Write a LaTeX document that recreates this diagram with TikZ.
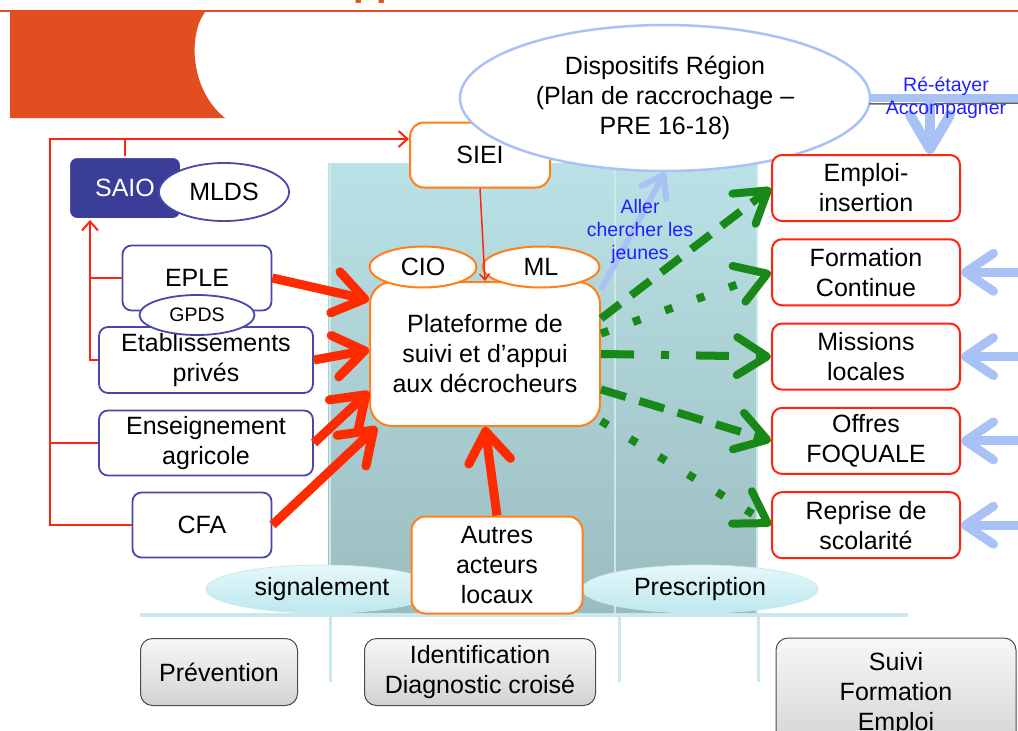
\documentclass[tikz,border=0pt]{standalone}
\usepackage{fontspec}
\setmainfont{Liberation Sans}
\usetikzlibrary{shapes.geometric, arrows.meta, positioning, calc}

\definecolor{titleorange}{RGB}{226,78,31}
\definecolor{saioblue}{RGB}{59,62,152}
\definecolor{schoolblue}{RGB}{72,72,168}
\definecolor{platorange}{RGB}{255,128,24}
\definecolor{outred}{RGB}{255,36,16}
\definecolor{arrowred}{RGB}{255,42,0}
\definecolor{arrowgreen}{RGB}{24,136,24}
\definecolor{paleblue}{RGB}{168,194,246}
\definecolor{linkblue}{RGB}{32,32,255}
\definecolor{panelTop}{RGB}{186,226,230}
\definecolor{panelBot}{RGB}{154,188,191}
\definecolor{paneledge}{RGB}{204,232,234}
\definecolor{ovalTop}{RGB}{230,248,250}
\definecolor{ovalBot}{RGB}{188,232,238}
\definecolor{tealedge}{RGB}{200,232,236}

\newcommand{\diagfont}{\fontsize{25}{30}\selectfont}
\newcommand{\labelfont}{\fontsize{19.5}{23}\selectfont}
\newcommand{\gpdsfont}{\fontsize{19.5}{22}\selectfont}

\begin{document}
\begin{tikzpicture}[x=1pt, y=-1pt,
    % Node styles
    schoolbox/.style={
        rectangle,
        rounded corners=9pt,
        draw=schoolblue,
        line width=1.8pt,
        fill=white,
        font=\diagfont,
        align=center,
        inner sep=0pt
    },
    schooloval/.style={
        ellipse,
        draw=schoolblue,
        line width=1.8pt,
        fill=white,
        inner sep=0pt
    },
    platbox/.style={
        rectangle,
        rounded corners=14pt,
        draw=platorange,
        line width=2pt,
        fill=white,
        font=\diagfont,
        align=center,
        inner sep=0pt
    },
    platoval/.style={
        ellipse,
        draw=platorange,
        line width=2pt,
        fill=white,
        font=\diagfont,
        inner sep=0pt
    },
    outbox/.style={
        rectangle,
        rounded corners=10pt,
        draw=outred,
        line width=2pt,
        fill=white,
        minimum width=188pt,
        minimum height=66pt,
        font=\diagfont,
        align=center,
        inner sep=0pt
    },
    phasebox/.style={
        rectangle,
        rounded corners=12pt,
        draw=black!70,
        line width=1pt,
        top color=gray!6,
        bottom color=gray!35,
        font=\diagfont,
        align=center,
        inner sep=0pt
    },
    stepoval/.style={
        ellipse,
        draw=tealedge,
        line width=0.8pt,
        top color=ovalTop,
        bottom color=ovalBot,
        font=\diagfont,
        inner sep=0pt
    },
    link/.style={
        draw=outred,
        line width=2pt
    },
    redarrow/.style={
        -{Straight Barb[length=30pt, width=42pt, round]},
        line width=9pt,
        arrowred
    },
    greenarrow/.style={
        -{Straight Barb[length=30pt, width=38pt, round]},
        line width=8pt,
        arrowgreen
    },
    bluearrow/.style={
        -{Straight Barb[length=28pt, width=38pt, round]},
        line width=9pt,
        paleblue
    }
]
\useasboundingbox (0,0) rectangle (1018,731);

% === Title strip ===
\node[anchor=base west, inner sep=0pt, text=titleorange,
      font=\fontsize{38}{40}\selectfont\bfseries] (title) at (353,-5) {pp};
\draw[titleorange, line width=1.2pt] (0,11) -- (1018,11);
\fill[titleorange] (10,12) -- (205,12) .. controls (188,35) and (190,90) .. (225,118) -- (10,118) -- cycle;

% === Phase columns (background) ===
\shade[top color=panelTop, bottom color=panelBot] (328,163) rectangle (615,615);
\shade[top color=panelTop, bottom color=panelBot] (615,163) rectangle (757,615);
\draw[paneledge, line width=1.5pt] (330,163) -- (330,615);
\draw[paneledge, line width=1.5pt] (615,163) -- (615,615);
\draw[paneledge, line width=1.5pt] (757,163) -- (757,615);
\draw[tealedge, line width=4pt] (140,615) -- (908,615);
\draw[tealedge, line width=3pt] (330,615) -- (330,682);
\draw[tealedge, line width=3pt] (619,615) -- (619,682);
\draw[tealedge, line width=3pt] (758,615) -- (758,682);

\node[stepoval, minimum width=232pt, minimum height=48pt] (signal) at (322,589) {signalement};
\node[stepoval, minimum width=236pt, minimum height=48pt] (prescr) at (700,589) {Prescription};

% === Left side: schools ===
\node[rectangle, rounded corners=8pt, fill=saioblue, draw=white, line width=2pt,
      minimum width=112pt, minimum height=62pt, font=\diagfont, text=white,
      inner sep=0pt] (saio) at (125,188) {SAIO};
\node[schooloval, minimum width=130pt, minimum height=58pt, font=\diagfont] (mlds) at (224,192) {MLDS};
\node[schoolbox, minimum width=149pt, minimum height=65pt] (eple) at (197,278) {EPLE};
\node[schoolbox, minimum width=214pt, minimum height=66pt] (etab) at (206,360) {Etablissements\\privés};
\node[schoolbox, minimum width=214pt, minimum height=65pt] (agri) at (206,443) {Enseignement\\agricole};
\node[schoolbox, minimum width=139pt, minimum height=65pt] (cfa) at (202,525) {CFA};
\node[schooloval, minimum width=115pt, minimum height=40pt, font=\gpdsfont] (gpds) at (197,315) {GPDS};

% === Centre: platform ===
\node[platbox, minimum width=140pt, minimum height=65pt] (siei) at (480,155) {SIEI};
\node[platbox, rounded corners=22pt, minimum width=230pt, minimum height=144pt] (plat) at (485,354)
    {Plateforme de\\suivi et d’appui\\aux décrocheurs};
\node[platoval, minimum width=107pt, minimum height=41pt] (cio) at (423,267) {CIO};
\node[platoval, minimum width=117pt, minimum height=41pt] (ml) at (541,267) {ML};
\node[platbox, minimum width=171pt, minimum height=97pt] (autres) at (497,565)
    {Autres\\acteurs\\locaux};

% === Phases (bottom) ===
\node[phasebox, minimum width=157pt, minimum height=67pt] (prev) at (219,672) {Prévention};
\node[phasebox, minimum width=231pt, minimum height=67pt] (ident) at (480,672)
    {Identification\\Diagnostic croisé};
\node[phasebox, minimum width=240pt, minimum height=112pt] (suivi) at (896,694)
    {Suivi\\Formation\\Emploi};

% === Red links ===
\coordinate (outer) at (50,139);
\coordinate (inner) at (90,360);
\draw[link, -{Straight Barb[length=9pt, width=16pt]}] (cfa.west) -| (outer) -- (outer -| siei.west);
\draw[link] (agri.west) -- (agri.west -| outer);
\draw[link] (saio.north) -- (saio.north |- outer);
\draw[link, -{Straight Barb[length=9pt, width=16pt]}] (etab.west) -| (inner |- saio.south);
\draw[link] (eple.west) -- (eple.west -| inner);
\draw[link, line width=1.5pt, -{Straight Barb[length=6pt, width=10pt]}] (siei.south) -- (plat.north);

% === Region devices ===
\node[ellipse, draw=paleblue, line width=2.5pt, fill=white, minimum width=410pt,
      minimum height=146pt, font=\diagfont, align=center, inner sep=0pt] (region) at (665,98)
    {Dispositifs Région\\(Plan de raccrochage –\\PRE 16-18)};
\coordinate (reEnd) at (1018,97);
\coordinate (drop) at (930,100);
\draw[black!60, line width=1.5pt] ($(region.east)+(-2,6)$) -- ($(reEnd)+(0,6)$);
\draw[paleblue, line width=8pt] (region.east) -- (reEnd |- region.east);

% === Right side: outcomes ===
\node[outbox] (emploi) at (866,188) {Emploi-\\insertion};
\node[outbox, below=16.3pt of emploi] (formation) {Formation\\Continue};
\node[outbox, below=16.3pt of formation] (missions) {Missions\\locales};
\node[outbox, below=16.3pt of missions] (offres) {Offres\\FOQUALE};
\node[outbox, below=16.3pt of offres] (reprise) {Reprise de\\scolarité};

% === Arrows ===
\draw[redarrow] (eple.east) -- (plat.155);
\draw[redarrow] (etab.east) -- (plat.178);
\draw[redarrow] (agri.east) -- (plat.198);
\draw[redarrow] (cfa.east) -- (plat.214);
\draw[redarrow] (autres.north) -- (plat.south);

\draw[greenarrow, dash pattern=on 24pt off 14pt] (plat.17) -- (emploi.west);
\draw[greenarrow, dash pattern=on 8pt off 26pt] (plat.10) -- (formation.west);
\draw[greenarrow, dash pattern=on 33pt off 27pt on 8pt off 27pt] (plat.east) -- (missions.west);
\draw[greenarrow, dash pattern=on 26pt off 14pt] (plat.-17) -- (offres.west);
\draw[greenarrow, dash pattern=on 8pt off 26pt] (plat.-30) -- (reprise.west);

\draw[bluearrow, line width=10pt, -{Straight Barb[length=34pt, width=40pt, round]}] (drop) -- (drop |- emploi.north);
\foreach \b in {formation, missions, offres, reprise}
    \draw[bluearrow] (reEnd |- \b.east) -- (\b.east);
\draw[bluearrow, line width=6pt, -{Straight Barb[length=20pt, width=28pt, round]}] (plat.29) -- (region.south);

% === Labels ===
\node[font=\labelfont, text=linkblue, align=center] (aller) at (640,231) {Aller\\chercher les\\jeunes};
\node[font=\labelfont, text=linkblue, align=center] (reetayer) at (946,98) {Ré-étayer\\Accompagner};

\end{tikzpicture}
\end{document}
